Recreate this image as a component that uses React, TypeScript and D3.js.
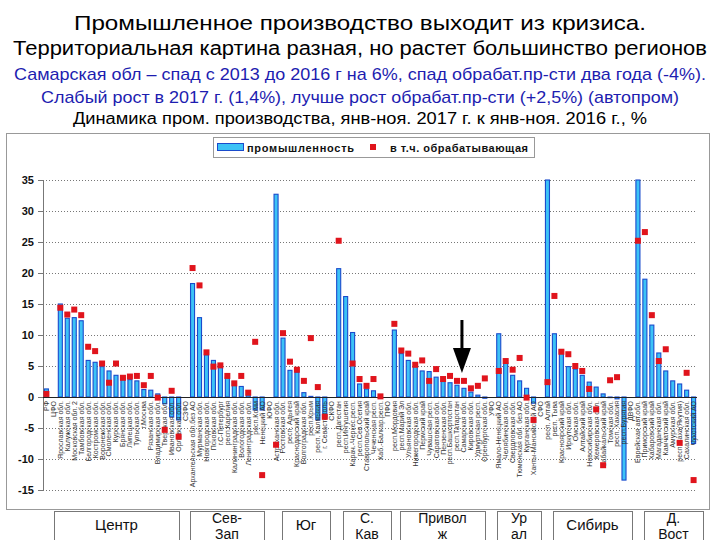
import { useEffect, useRef } from 'react'
import * as d3 from 'd3'

const W = 720
const H = 540
const FONT = '"Liberation Sans", Arial, sans-serif'

const TITLE_LINES = [
  'Промышленное производство выходит из кризиса.',
  'Территориальная картина разная, но растет большинство регионов',
  'Самарская обл – спад с 2013 до 2016 г на 6%, спад обрабат.пр-сти два года (-4%).',
  'Слабый рост в 2017 г. (1,4%), лучше рост обрабат.пр-сти (+2,5%) (автопром)',
  'Динамика пром. производства, янв-ноя. 2017 г. к янв-ноя. 2016 г., %',
]

const CATEGORIES = [
  'РФ', 'ЦФО', 'Ярославская обл.', 'Калужская обл.', 'Московская обл. 2', 'Тамбовская обл.',
  'Белгородская обл.', 'Костромская обл.', 'Воронежская обл.', 'Смоленская обл.', 'Курская обл.',
  'Брянская обл.', 'Липецкая обл.', 'Тульская обл.', 'г.Москва', 'Рязанская обл.',
  'Владимирская обл.', 'Тверская обл.', 'Ивановская обл.', 'Орловская обл.',
  'СЗФО', 'Архангельская обл.без АО', 'Мурманская обл.', 'Новгородская обл.', 'Псковская обл.',
  'г.С-Петербург', 'респ.Карелия', 'Калининградская обл.', 'Вологодская обл.', 'Ленинградская обл.',
  'респ.Коми', 'Ненецкий АО',
  'ЮФО', 'Астраханская обл.', 'Ростовская обл.', 'респ. Адыгея', 'Краснодарский край',
  'Волгоградская обл.', 'респ.Крым', 'респ. Калмыкия', 'г. Севастополь',
  'СКФО', 'респ.Дагестан', 'респ.Ингушетия', 'Карач.-Черкес.респ.', 'респ.Сев.Осетия',
  'Ставропольский край', 'Чеченская респ.', 'Каб.-Балкар.респ.',
  'ПФО', 'респ.Мордовия', 'респ.Марий Эл', 'Ульяновская обл.', 'Нижегородская обл.', 'Пермский край',
  'Чувашская респ.', 'Саратовская обл.', 'Пензенская обл.', 'респ.Башкортостан', 'респ.Татарстан',
  'Самарская обл.', 'Кировская обл.', 'Удмуртская респ.', 'Оренбургская обл.',
  'УФО', 'Ямало-Ненецкий АО', 'Челябинская обл.', 'Свердловская обл.', 'Тюменская обл. без АО',
  'Курганская обл.', 'Ханты-Мансийский АО',
  'СФО', 'респ. Алтай', 'респ. Тыва', 'Красноярский край', 'Иркутская обл.', 'Омская обл.',
  'Алтайский край', 'Новосибирская обл.', 'Кемеровская обл.', 'Забайкальский край', 'Томская обл.',
  'респ. Хакасия', 'респ.Бурятия',
  'ДВФО', 'Еврейская авт.обл.', 'Приморский край', 'Хабаровский край', 'Магаданская обл.',
  'Камчатский край', 'Амурская обл.', 'респ.Саха(Якутия)', 'Сахалинская обл.', 'Чукотский АО',
]

// промышленность, %
const INDUSTRY: (number | null)[] = [
  1.3, null, 15.0, 12.7, 12.8, 12.3, 5.9, 5.6, 4.9, 4.2, 3.5, 3.2, 2.8, 2.6, 1.2, 1.1, 0.5, -1.1, -3.2, -3.7,
  null, 18.3, 12.8, 6.8, 5.9, 5.2, 3.2, 2.5, 1.7, 0.3, -2.1, -2.1,
  null, 32.7, 9.5, 4.3, 4.0, 0.7, 0.1, -3.7, -3.2,
  null, 20.7, 16.2, 10.4, 2.1, 1.3, 1.0, 0.1,
  null, 10.8, 7.0, 5.9, 4.9, 4.2, 4.1, 3.2, 2.5, 2.3, 1.9, 1.4, 0.8, 0.3, -0.2,
  null, 10.2, 5.5, 3.5, 2.6, 1.4, -1.0,
  null, 40.0, 10.2, 7.6, 4.9, 4.5, 3.5, 2.4, 1.6, 0.5, -0.1, -0.3, -13.4,
  null, 40.0, 19.0, 11.6, 7.1, 4.2, 2.6, 2.1, 1.1, -7.5,
]

// в т.ч. обрабатывающая, %
const MANUFACTURING: (number | null)[] = [
  0.5, null, 14.4, 13.3, 14.1, 13.2, 8.1, 7.4, 5.4, 2.3, 5.4, 3.1, 3.3, 3.4, 1.9, 3.4, -0.1, -5.3, 1.0, -6.4,
  null, 20.8, 18.0, 7.2, 4.9, 5.1, 3.4, 2.2, 3.4, 0.7, 8.9, -12.6,
  null, -7.7, 10.3, 5.7, 4.4, 2.6, 9.5, 1.6, -3.2,
  null, 25.2, null, 5.4, 2.9, 1.8, 2.9, 0.1,
  null, 11.8, 7.5, 7.0, 5.2, 5.9, 2.6, 4.5, 2.9, 3.4, 2.6, 2.6, 1.4, 1.8, 3.0,
  null, 4.2, 5.8, 4.4, 6.3, -0.1, -3.7,
  null, 2.4, 16.3, 7.3, 6.9, 5.0, 4.2, 1.3, -2.0, -11.0, 2.7, 3.2, null,
  null, 25.2, 26.6, 13.2, 5.8, 7.7, null, -7.4, 3.9, -13.4,
]

const Y_TICKS = [35, 30, 25, 20, 15, 10, 5, 0, -5, -10, -15]
const LEGEND = ['промышленность', 'в т.ч. обрабатывающая']
const REGIONS = [['Центр'], ['Сев-', 'Зап'], ['Юг'], ['С.', 'Кав'], ['Привол', 'ж'], ['Ур', 'ал'], ['Сибирь'], ['Д.', 'Вост']]

// layout of the region boxes under the chart (px)
const REGION_SPANS = [[54, 179], [190, 264], [282, 330], [343, 391], [400, 485], [497, 541], [553, 632], [644, 703]]

const BAR_FILL = '#3cc2f6'
const BAR_STROKE = '#1a4bcc'
const RED = '#e0141c'

export default function App() {
  const svgRef = useRef<SVGSVGElement>(null)

  useEffect(() => {
    const svg = d3.select(svgRef.current)
    svg.selectAll('*').remove()

    svg.append('rect').attr('width', W).attr('height', H).attr('fill', '#fff')

    // Titles
    const titleY = [30, 55, 80, 103, 124]
    const titleSize = [21, 20, 17, 17, 16]
    const titleLen = [572, 694, 692, 638, 574]
    const titleColor = ['#000', '#000', '#1d1db0', '#1d1db0', '#000']
    TITLE_LINES.forEach((t, i) => {
      svg.append('text')
        .attr('x', 360).attr('y', titleY[i])
        .attr('text-anchor', 'middle')
        .attr('font-family', FONT)
        .attr('font-size', titleSize[i])
        .attr('fill', titleColor[i])
        .attr('textLength', titleLen[i])
        .attr('lengthAdjust', 'spacingAndGlyphs')
        .text(t)
    })

    // Chart frame
    svg.append('rect')
      .attr('x', 6.5).attr('y', 133.5).attr('width', 703).attr('height', 376)
      .attr('fill', '#fff').attr('stroke', '#999')

    const x = d3.scaleBand<string>().domain(CATEGORIES).range([43, 697]).paddingInner(0.42).paddingOuter(0.2)
    const y = d3.scaleLinear().domain([-15, 35]).range([490, 180]).clamp(true)
    const bw = x.bandwidth()
    const cx = (c: string) => (x(c) ?? 0) + bw / 2

    const g = svg.append('g')

    // Grid lines
    g.selectAll('line.grid')
      .data(Y_TICKS.filter(v => v !== 0))
      .join('line')
      .attr('x1', 43).attr('x2', 697)
      .attr('y1', d => y(d) + 0.5).attr('y2', d => y(d) + 0.5)
      .attr('stroke', '#777')
      .attr('stroke-dasharray', '1,2')

    // Y axis
    g.append('line')
      .attr('x1', 43.5).attr('x2', 43.5).attr('y1', y(35)).attr('y2', y(-15))
      .attr('stroke', '#777')
    g.selectAll('line.tick')
      .data(Y_TICKS)
      .join('line')
      .attr('x1', 38).attr('x2', 43)
      .attr('y1', d => y(d) + 0.5).attr('y2', d => y(d) + 0.5)
      .attr('stroke', '#777')
    g.selectAll('text.ytick')
      .data(Y_TICKS)
      .join('text')
      .attr('x', 34).attr('y', d => y(d))
      .attr('dy', '0.36em')
      .attr('text-anchor', 'end')
      .attr('font-family', FONT)
      .attr('font-weight', 'bold')
      .attr('font-size', 11)
      .attr('fill', '#111')
      .text(d => String(d))

    // Bars
    const bars = CATEGORIES.map((c, i) => ({ c, v: INDUSTRY[i] })).filter(d => d.v !== null) as { c: string, v: number }[]
    g.selectAll('rect.bar')
      .data(bars)
      .join('rect')
      .attr('x', d => x(d.c) ?? 0)
      .attr('width', bw)
      .attr('y', d => Math.min(y(d.v), y(0)))
      .attr('height', d => Math.abs(y(d.v) - y(0)))
      .attr('fill', BAR_FILL)
      .attr('stroke', BAR_STROKE)
      .attr('stroke-width', 1.1)

    // Zero line
    g.append('line')
      .attr('x1', 43).attr('x2', 697)
      .attr('y1', y(0) + 0.5).attr('y2', y(0) + 0.5)
      .attr('stroke', '#222')

    // Category labels
    g.selectAll('text.cat')
      .data(CATEGORIES)
      .join('text')
      .attr('transform', d => `translate(${cx(d)},${y(0) + 4}) rotate(-90)`)
      .attr('dy', '0.35em')
      .attr('text-anchor', 'end')
      .attr('font-family', FONT)
      .attr('font-size', 7)
      .attr('fill', '#333')
      .text(d => d)

    // Manufacturing markers
    const pts = CATEGORIES.map((c, i) => ({ c, v: MANUFACTURING[i] })).filter(d => d.v !== null) as { c: string, v: number }[]
    g.selectAll('rect.pt')
      .data(pts)
      .join('rect')
      .attr('x', d => cx(d.c) - 3)
      .attr('y', d => y(d.v) - 3)
      .attr('width', 6).attr('height', 6)
      .attr('fill', RED)

    // Legend
    const lg = svg.append('g')
    lg.append('rect').attr('x', 213.5).attr('y', 137.5).attr('width', 321).attr('height', 20)
      .attr('fill', '#fff').attr('stroke', '#999')
    lg.append('rect').attr('x', 217.5).attr('y', 143.5).attr('width', 26).attr('height', 7)
      .attr('fill', BAR_FILL).attr('stroke', BAR_STROKE)
    lg.append('text').attr('x', 247).attr('y', 151.5)
      .attr('font-family', FONT).attr('font-weight', 'bold').attr('font-size', 11).attr('fill', '#111')
      .attr('textLength', 107).attr('lengthAdjust', 'spacing')
      .text(LEGEND[0])
    lg.append('rect').attr('x', 370).attr('y', 144).attr('width', 6).attr('height', 6).attr('fill', RED)
    lg.append('text').attr('x', 390).attr('y', 151.5)
      .attr('font-family', FONT).attr('font-weight', 'bold').attr('font-size', 11).attr('fill', '#111')
      .attr('textLength', 138).attr('lengthAdjust', 'spacing')
      .text(LEGEND[1])

    // Arrow pointing at Самарская обл.
    const ax = cx('Самарская обл.') - 2
    svg.append('line').attr('x1', ax).attr('x2', ax).attr('y1', 320).attr('y2', 352)
      .attr('stroke', '#000').attr('stroke-width', 3)
    svg.append('path')
      .attr('d', `M${ax - 9},348 L${ax + 9},348 L${ax},373 Z`)
      .attr('fill', '#000')

    // Region boxes
    REGIONS.forEach((lines, i) => {
      const [x0, x1] = REGION_SPANS[i]
      svg.append('rect')
        .attr('x', x0 + 0.5).attr('y', 511.5).attr('width', x1 - x0).attr('height', 40)
        .attr('fill', '#fff').attr('stroke', '#777')
      const mid = (x0 + x1) / 2
      const ys = lines.length === 1 ? [530] : [523, 539]
      lines.forEach((t, j) => {
        svg.append('text')
          .attr('x', mid).attr('y', ys[j])
          .attr('text-anchor', 'middle')
          .attr('font-family', FONT)
          .attr('font-size', lines.length === 1 ? 15 : 14)
          .attr('fill', '#111')
          .text(t)
      })
    })
  }, [])

  return (
    <svg
      ref={svgRef}
      width={W}
      height={H}
      style={{ position: 'absolute', left: 0, top: 0, display: 'block' }}
    />
  )
}
